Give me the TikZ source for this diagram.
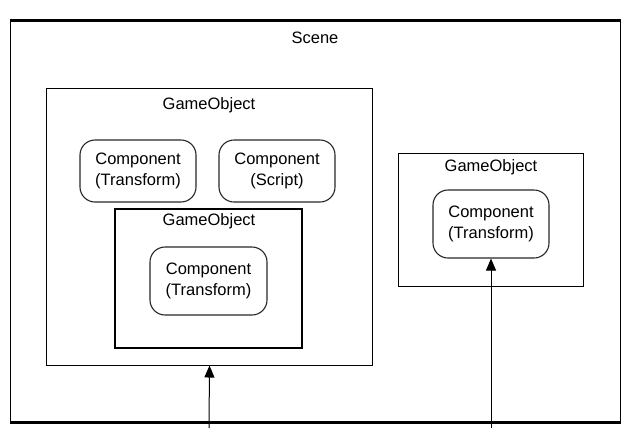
\documentclass[tikz,border=0pt]{standalone}
\usepackage{fontspec}
\setmainfont{Liberation Sans}
\usetikzlibrary{arrows.meta}
\begin{document}
\begin{tikzpicture}[x=1bp,y=-1bp,
  lbl/.style={inner sep=0pt, font=\fontsize{16.5bp}{20bp}\selectfont},
  box/.style={draw=black, line width=1bp, inner sep=0pt},
  gobox/.style={box},
  thickbox/.style={box, line width=2.2bp},
  compbox/.style={draw=black!85, line width=1.1bp, rounded corners=15bp, inner sep=0pt,
    align=center, font=\fontsize{16.5bp}{21bp}\selectfont},
  link/.style={line width=1bp, -{Triangle[width=10bp,length=12bp]}}
]
\useasboundingbox (0,0) rectangle (621,428);

% scene frame
\node[box, minimum width=609bp, minimum height=401bp] (scene) at (315.5,221.5) {};
\draw[line width=3bp] (scene.north west) -- (scene.north east);
\draw[line width=3bp] (scene.south west) -- (scene.south east);
\draw[line width=2bp] (scene.north east) -- (scene.south east);
\node[lbl] (scenelbl) at (315,38) {Scene};

% first game object with its children
\node[gobox, minimum width=325bp, minimum height=277bp] (go1) at (209.5,226.5) {};
\node[lbl] (go1lbl) at (209,105) {GameObject};
\node[compbox, minimum width=116bp, minimum height=62bp] (c1) at (138,171) {Component\\(Transform)};
\node[compbox, minimum width=116bp, minimum height=62bp] (c2) at (277,171) {Component\\(Script)};

\node[thickbox, minimum width=187bp, minimum height=139bp] (go2) at (208.5,278.5) {};
\node[lbl] (go2lbl) at (209,221) {GameObject};
\node[compbox, minimum width=117bp, minimum height=68bp] (c3) at (208.5,281) {Component\\(Transform)};

% second game object
\node[gobox, minimum width=185bp, minimum height=133bp] (go3) at (490.5,219.5) {};
\node[lbl] (go3lbl) at (491,167) {GameObject};
\node[compbox, minimum width=116bp, minimum height=68bp] (c4) at (491,224) {Component\\(Transform)};

% references coming in from below
\coordinate (in1) at (209,428);
\coordinate (in2) at (491,428);
\draw[link] (in1) -- (go1.south);
\draw[link] (in2) -- (c4.south);
\end{tikzpicture}
\end{document}
